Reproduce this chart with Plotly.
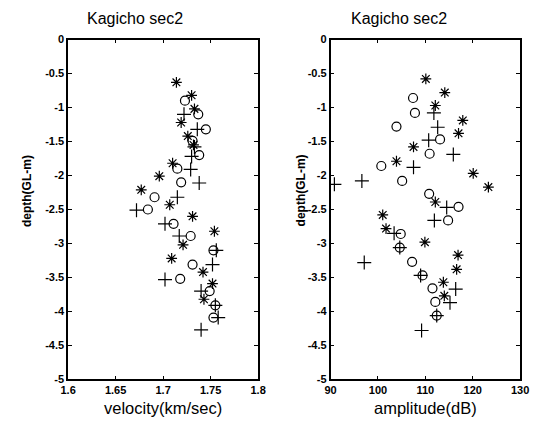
import plotly.graph_objects as go

# ---- Left panel: velocity (km/sec) vs depth (GL-m) ----
vel_star_v = [1.714, 1.730, 1.733, 1.719, 1.726, 1.732, 1.710, 1.696, 1.677, 1.707, 1.731, 1.754,
              1.721, 1.709, 1.742, 1.752, 1.743]
vel_star_d = [-0.63, -0.82, -1.02, -1.22, -1.42, -1.55, -1.82, -2.01, -2.21, -2.43, -2.60, -2.82,
              -3.02, -3.22, -3.42, -3.59, -3.82]
vel_circ_v = [1.723, 1.737, 1.745, 1.731, 1.738, 1.715, 1.719, 1.691, 1.684, 1.711, 1.729, 1.753,
              1.731, 1.718, 1.749, 1.755, 1.753]
vel_circ_d = [-0.90, -1.10, -1.32, -1.49, -1.70, -1.90, -2.10, -2.32, -2.50, -2.71, -2.89, -3.10,
              -3.31, -3.52, -3.70, -3.91, -4.09]
vel_plus_v = [1.722, 1.736, 1.733, 1.730, 1.729, 1.738, 1.715, 1.672, 1.702, 1.717, 1.756, 1.752,
              1.702, 1.740, 1.755, 1.758, 1.740]
vel_plus_d = [-1.10, -1.32, -1.58, -1.72, -1.91, -2.11, -2.32, -2.51, -2.71, -2.89, -3.10, -3.31,
              -3.53, -3.70, -3.91, -4.09, -4.27]

# ---- Right panel: amplitude (dB) vs depth (GL-m) ----
amp_star_a = [110.1, 114.1, 112.1, 117.9, 117.0, 107.5, 103.9, 120.1, 123.3, 112.1, 101.0, 101.7,
              109.9, 116.9, 116.6, 113.8, 114.0]
amp_star_d = [-0.58, -0.78, -0.97, -1.19, -1.38, -1.58, -1.79, -1.97, -2.17, -2.39, -2.58, -2.78,
              -2.98, -3.17, -3.38, -3.57, -3.77]
amp_circ_a = [107.4, 107.8, 103.9, 113.1, 110.9, 100.7, 105.1, 110.8, 117.0, 114.8, 104.8, 104.6,
              107.2, 109.4, 111.5, 112.1, 112.4]
amp_circ_d = [-0.86, -1.08, -1.28, -1.47, -1.68, -1.86, -2.08, -2.27, -2.46, -2.66, -2.86, -3.06,
              -3.27, -3.47, -3.66, -3.86, -4.06]
amp_plus_a = [111.8, 112.6, 110.7, 115.9, 107.5, 96.6, 90.8, 114.5, 111.9, 103.4, 104.6, 97.1,
              109.0, 116.4, 115.2, 112.4, 109.2]
amp_plus_d = [-1.08, -1.29, -1.48, -1.69, -1.88, -2.08, -2.13, -2.47, -2.66, -2.85, -3.06, -3.28,
              -3.47, -3.67, -3.87, -4.06, -4.28]

title_text = "Kagicho sec2"
vel_ticks = [1.6, 1.65, 1.7, 1.75, 1.8]
vel_ticklabels = ["1.6", "1.65", "1.7", "1.75", "1.8"]
amp_ticks = [90, 100, 110, 120, 130]
amp_ticklabels = ["90", "100", "110", "120", "130"]
depth_ticks = [0, -0.5, -1, -1.5, -2, -2.5, -3, -3.5, -4, -4.5, -5]
depth_ticklabels = ["0", "-0.5", "-1", "-1.5", "-2", "-2.5", "-3", "-3.5", "-4", "-4.5", "-5"]

W, H = 555, 426
FONT = "Liberation Sans"

fig = go.Figure()

def add_series(x, y, symbol, size, xa, ya):
    fig.add_trace(go.Scatter(
        x=x, y=y, mode="markers", xaxis=xa, yaxis=ya, showlegend=False,
        marker=dict(symbol=symbol, size=size, color="black",
                    line=dict(color="black", width=1.2)),
    ))

add_series(vel_star_v, vel_star_d, "asterisk-open", 9, "x", "y")
add_series(vel_circ_v, vel_circ_d, "circle-open", 9, "x", "y")
add_series(vel_plus_v, vel_plus_d, "cross-thin-open", 10, "x", "y")
add_series(amp_star_a, amp_star_d, "asterisk-open", 9, "x2", "y2")
add_series(amp_circ_a, amp_circ_d, "circle-open", 9, "x2", "y2")
add_series(amp_plus_a, amp_plus_d, "cross-thin-open", 10, "x2", "y2")

tickfont = dict(family=FONT, size=11, color="black", weight="bold")
common_axis = dict(showgrid=False, zeroline=False, showline=True, linecolor="black",
                   linewidth=1.5, mirror="allticks", ticks="inside", ticklen=4,
                   tickcolor="black", tickwidth=1, tickfont=tickfont)

ybot = (H - 384.3) / H
ytop = (H - 34.5) / H

fig.update_layout(
    width=W, height=H,
    margin=dict(l=0, r=0, t=0, b=0),
    paper_bgcolor="white", plot_bgcolor="white",
    xaxis=dict(domain=[62 / W, 258 / W], range=[1.6, 1.8], tickvals=vel_ticks,
               ticktext=vel_ticklabels, anchor="y", **common_axis),
    yaxis=dict(domain=[ybot, ytop], range=[-5, 0], tickvals=depth_ticks,
               ticktext=depth_ticklabels, anchor="x", **common_axis),
    xaxis2=dict(domain=[332.8 / W, 528.3 / W], range=[90, 130], tickvals=amp_ticks,
                ticktext=amp_ticklabels, anchor="y2", **common_axis),
    yaxis2=dict(domain=[ybot, ytop], range=[-5, 0], tickvals=depth_ticks,
                ticktext=depth_ticklabels, anchor="x2", **common_axis),
)

def ann(text, x, y, size, angle=0, weight="normal"):
    fig.add_annotation(text=text, x=x / W, y=(H - y) / H, xref="paper", yref="paper",
                       showarrow=False, textangle=angle, xanchor="center", yanchor="middle",
                       font=dict(family=FONT, size=size, color="black", weight=weight))

ann(title_text, 131.5, 13, 16)
ann(title_text, 403, 13, 16)
ann("velocity(km/sec)", 160, 414, 16.5)
ann("amplitude(dB)", 431, 414, 16.5)
ann("depth(GL-m)", 19, 190, 12, angle=-90, weight="bold")
ann("depth(GL-m)", 302, 190, 12, angle=-90, weight="bold")

fig.write_html("out.html",
               config={"displayModeBar": False},
               post_script="document.body.style.margin='0px';document.body.style.overflow='hidden';")
